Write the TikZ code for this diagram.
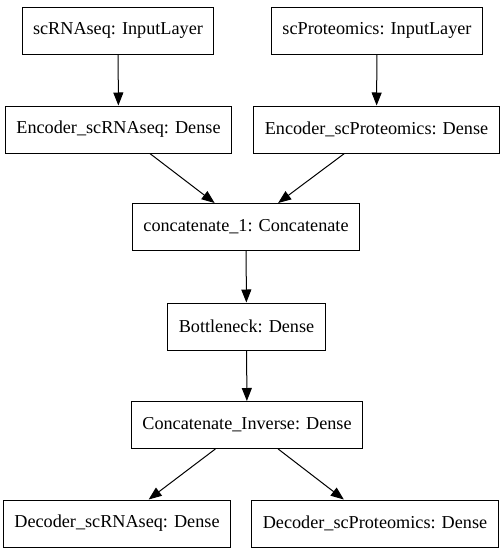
\documentclass[tikz,border=0pt]{standalone}
\usepackage{fontspec}
\setmainfont{Liberation Serif}
\usetikzlibrary{arrows.meta}
\tikzset{
    layer/.style={draw, line width=1pt, rectangle, align=center, inner xsep=11pt,
        minimum height=47pt, font=\fontsize{18.2}{21}\selectfont},
    flow/.style={draw, line width=1pt, -{Triangle[length=13pt,width=10pt]}}
}
\begin{document}
\begin{tikzpicture}[x=1pt, y=-1pt]
\useasboundingbox (0,0) rectangle (503,555);

% inputs
\node[layer] (in_rna) at (118,30.5) {scRNAseq: InputLayer};
\node[layer] (in_prot) at (377,30.5) {scProteomics: InputLayer};
% encoders
\node[layer] (enc_rna) at (118.5,129.5) {Encoder\_scRNAseq: Dense};
\node[layer] (enc_prot) at (376.5,129.5) {Encoder\_scProteomics: Dense};
% middle
\node[layer] (concat) at (246,227) {concatenate\_1: Concatenate};
\node[layer] (bottle) at (246.5,326.5) {Bottleneck: Dense};
\node[layer] (inverse) at (247,425) {Concatenate\_Inverse: Dense};
% decoders
\node[layer] (dec_rna) at (117,523.5) {Decoder\_scRNAseq: Dense};
\node[layer] (dec_prot) at (375,523.5) {Decoder\_scProteomics: Dense};

\draw[flow] (in_rna) -- (enc_rna);
\draw[flow] (in_prot) -- (enc_prot);
\draw[flow] (enc_rna) -- (concat);
\draw[flow] (enc_prot) -- (concat);
\draw[flow] (concat) -- (bottle);
\draw[flow] (bottle) -- (inverse);
\draw[flow] (inverse) -- (dec_rna);
\draw[flow] (inverse) -- (dec_prot);

\end{tikzpicture}
\end{document}
